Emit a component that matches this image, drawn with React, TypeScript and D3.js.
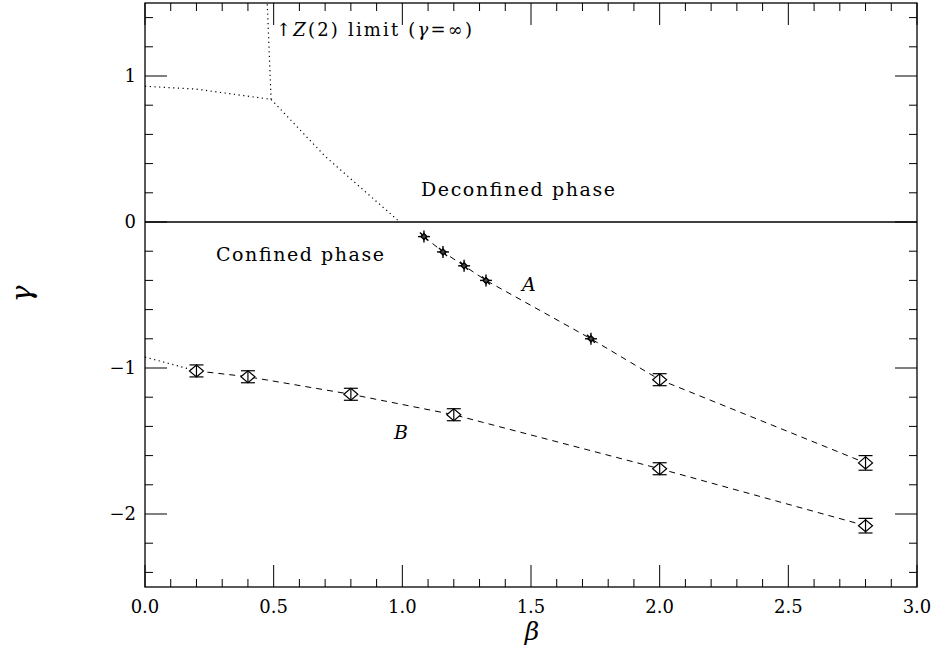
import React from "react";
import * as d3 from "d3";

const W = 935, H = 649;
const M = { left: 145, right: 917, top: 3, bottom: 587 };

const xTicks = [0, 0.5, 1.0, 1.5, 2.0, 2.5, 3.0];
const yTicks = [-2, -1, 0, 1];

// Series A: stars (small) then diamonds
const aStarBeta = [1.084, 1.158, 1.24, 1.325, 1.733];
const aStarGamma = [-0.1, -0.205, -0.3, -0.4, -0.8];
const aStarErr = [0.02, 0.02, 0.02, 0.02, 0.02];
const aDiaBeta = [2.0, 2.8];
const aDiaGamma = [-1.08, -1.65];
const aDiaErr = [0.04, 0.05];

// Series B: diamonds
const bBeta = [0.2, 0.4, 0.8, 1.2, 2.0, 2.8];
const bGamma = [-1.02, -1.06, -1.18, -1.32, -1.69, -2.08];
const bErr = [0.015, 0.015, 0.015, 0.015, 0.015, 0.05];

// Dotted phase boundaries
const dotUpperBeta = [0.0, 0.2, 0.49];
const dotUpperGamma = [0.93, 0.91, 0.84];
const dotVertBeta = [0.49, 0.475];
const dotVertGamma = [0.84, 1.5];
const dotDiagBeta = [0.49, 0.7, 0.99];
const dotDiagGamma = [0.84, 0.45, 0.0];
const dotLowBeta = [0.0, 0.2];
const dotLowGamma = [-0.925, -1.02];

const FONT = "'DejaVu Serif', serif";

export default function App() {
  const x = d3.scaleLinear().domain([0, 3]).range([M.left, M.right]);
  const y = d3.scaleLinear().domain([-2.5, 1.5]).range([M.bottom, M.top]);
  const line = d3.line<[number, number]>().x(d => x(d[0])).y(d => y(d[1]));
  const zip = (a: number[], b: number[]) => a.map((v, i) => [v, b[i]] as [number, number]);

  const xMinor = d3.range(0, 3.0001, 0.1);
  const yMinor = d3.range(-2.4, 1.5001, 0.2);

  const aLine = zip([...aStarBeta, ...aDiaBeta], [...aStarGamma, ...aDiaGamma]);
  const bLine = zip(bBeta, bGamma);

  const diamond = (bx: number, g: number, e: number, k: string) => {
    const cx = x(bx), cy = y(g);
    const top = y(g + e), bot = y(g - e);
    return (
      <g key={k} stroke="#000" fill="#fff" strokeWidth={1.2}>
        <path d={`M${cx - 7},${cy} L${cx},${cy - 6} L${cx + 7},${cy} L${cx},${cy + 6} Z`} />
        <line x1={cx} x2={cx} y1={Math.min(top, cy - 6)} y2={Math.max(bot, cy + 6)} />
        <line x1={cx - 7} x2={cx + 7} y1={Math.min(top, cy - 6)} y2={Math.min(top, cy - 6)} />
        <line x1={cx - 7} x2={cx + 7} y1={Math.max(bot, cy + 6)} y2={Math.max(bot, cy + 6)} />
      </g>
    );
  };

  const star = (bx: number, g: number, e: number, k: string) => {
    const cx = x(bx), cy = y(g);
    const ep = Math.max(y(g - e) - cy, 6);
    return (
      <g key={k} stroke="#000" fill="#444" strokeWidth={1.4}>
        <line x1={cx} x2={cx} y1={cy - ep} y2={cy + ep} />
        <line x1={cx - 6} x2={cx + 6} y1={cy} y2={cy} />
        <line x1={cx - 4} x2={cx + 4} y1={cy - 4} y2={cy + 4} />
        <path d={`M${cx - 3},${cy} L${cx},${cy - 3} L${cx + 3},${cy} L${cx},${cy + 3} Z`} />
      </g>
    );
  };

  return (
    <svg width={W} height={H} style={{ position: "absolute", left: 0, top: 0, background: "#fff" }}>
      <rect x={0} y={0} width={W} height={H} fill="#fff" />
      {/* frame */}
      <rect x={M.left} y={M.top} width={M.right - M.left} height={M.bottom - M.top} fill="none" stroke="#000" strokeWidth={1.3} />
      {/* x ticks */}
      {xMinor.map((v, i) => {
        const major = Math.abs(v * 2 - Math.round(v * 2)) < 1e-6;
        const len = major ? 22 : 8;
        return (
          <g key={"xt" + i} stroke="#000" strokeWidth={1}>
            <line x1={x(v)} x2={x(v)} y1={M.bottom} y2={M.bottom - len} />
            <line x1={x(v)} x2={x(v)} y1={M.top} y2={M.top + len} />
          </g>
        );
      })}
      {yMinor.map((v, i) => {
        const major = Math.abs(v - Math.round(v)) < 1e-6;
        const len = major ? 22 : 8;
        return (
          <g key={"yt" + i} stroke="#000" strokeWidth={1}>
            <line x1={M.left} x2={M.left + len} y1={y(v)} y2={y(v)} />
            <line x1={M.right} x2={M.right - len} y1={y(v)} y2={y(v)} />
          </g>
        );
      })}
      {xTicks.map((v, i) => (
        <text key={"xl" + i} x={x(v)} y={613} textAnchor="middle" fontFamily={FONT} fontSize={18}>
          {v.toFixed(1)}
        </text>
      ))}
      {yTicks.map((v, i) => (
        <text key={"yl" + i} x={136} y={y(v) + 6} textAnchor="end" fontFamily={FONT} fontSize={18}>
          {v < 0 ? "\u2212" + Math.abs(v) : String(v)}
        </text>
      ))}
      {/* axis titles */}
      <text x={532} y={640} textAnchor="middle" fontFamily={FONT} fontStyle="italic" fontSize={25}>β</text>
      <text transform={`translate(31,294) rotate(-90)`} textAnchor="middle" fontFamily={FONT} fontStyle="italic" fontSize={28}>γ</text>

      {/* gamma = 0 line */}
      <line x1={x(0)} x2={x(3)} y1={y(0)} y2={y(0)} stroke="#000" strokeWidth={1.3} />

      {/* dotted boundaries */}
      {[zip(dotUpperBeta, dotUpperGamma), zip(dotVertBeta, dotVertGamma), zip(dotDiagBeta, dotDiagGamma), zip(dotLowBeta, dotLowGamma)].map((d, i) => (
        <path key={"dot" + i} d={line(d) || ""} fill="none" stroke="#000" strokeWidth={1.2} strokeDasharray="1.2,3.5" />
      ))}

      {/* dashed fits */}
      <path d={line(aLine) || ""} fill="none" stroke="#000" strokeWidth={1} strokeDasharray="6,5" />
      <path d={line(bLine) || ""} fill="none" stroke="#000" strokeWidth={1} strokeDasharray="6,5" />

      {aStarBeta.map((b, i) => star(b, aStarGamma[i], aStarErr[i], "as" + i))}
      {aDiaBeta.map((b, i) => diamond(b, aDiaGamma[i], aDiaErr[i], "ad" + i))}
      {bBeta.map((b, i) => diamond(b, bGamma[i], bErr[i], "bd" + i))}

      {/* labels */}
      <text x={421} y={196} fontFamily={FONT} fontSize={19} textLength={194} lengthAdjust="spacing">Deconfined phase</text>
      <text x={216} y={261} fontFamily={FONT} fontSize={19} textLength={168} lengthAdjust="spacing">Confined phase</text>
      <text x={522} y={291} fontFamily={FONT} fontStyle="italic" fontSize={19}>A</text>
      <text x={394} y={439} fontFamily={FONT} fontStyle="italic" fontSize={19}>B</text>
      <text x={276} y={36} fontFamily={FONT} fontSize={18} textLength={196} lengthAdjust="spacing">
        <tspan>↑</tspan>
        <tspan fontStyle="italic">Z</tspan>
        <tspan>(2) limit (</tspan>
        <tspan fontStyle="italic">γ</tspan>
        <tspan>=∞)</tspan>
      </text>
    </svg>
  );
}
